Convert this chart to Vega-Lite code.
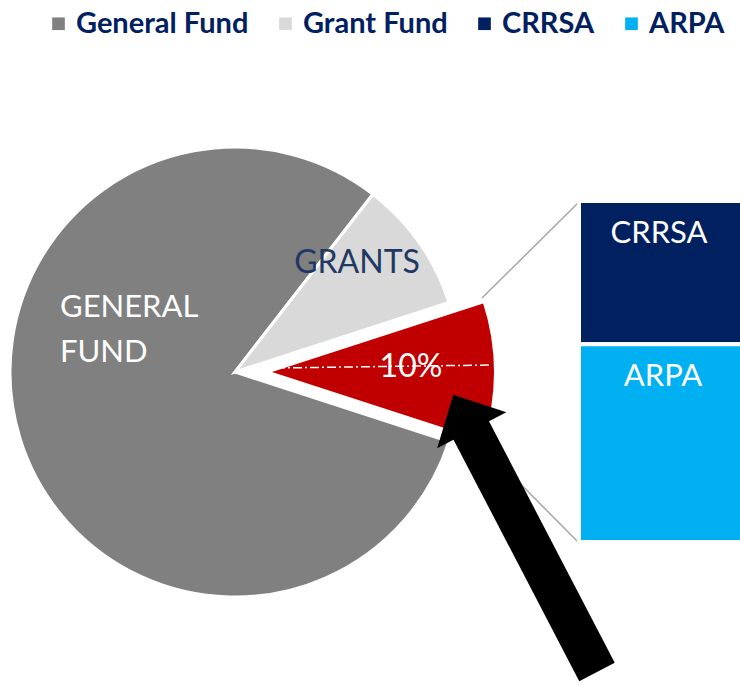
{
  "$schema": "https://vega.github.io/schema/vega-lite/v6.json",
  "width": 740,
  "height": 685,
  "autosize": "none",
  "padding": 0,
  "background": "white",
  "config": {"view": {"stroke": null}},
  "datasets": {
    "funds": [
      {"fund": "Federal Relief", "share": 10},
      {"fund": "General Fund", "share": 80.5},
      {"fund": "Grant Fund", "share": 9.5}
    ],
    "relief": [
      {"fund": "CRRSA", "share": 4.2},
      {"fund": "ARPA", "share": 5.8}
    ]
  },
  "resolve": {"scale": {"y": "independent"}},
  "layer": [
    {
      "data": {"name": "funds"},
      "transform": [{"stack": "share", "groupby": [], "sort": [{"field": "fund", "order": "ascending"}], "as": ["start", "end"]}],
      "mark": {"type": "arc", "outerRadius": 225, "stroke": "white", "strokeWidth": 3},
      "encoding": {
        "theta": {"field": "start", "type": "quantitative", "scale": {"domain": [0, 100], "range": [1.25664, 7.53982]}},
        "theta2": {"field": "end"},
        "color": {
          "field": "fund", "type": "nominal",
          "scale": {"domain": ["General Fund", "Grant Fund", "CRRSA", "ARPA", "Federal Relief"], "range": ["#808080", "#D9D9D9", "#002060", "#00B0F0", "#C00000"]},
          "legend": {
            "values": ["General Fund", "Grant Fund", "CRRSA", "ARPA"],
            "orient": "none", "legendX": 44, "legendY": 9, "direction": "horizontal",
            "title": null, "symbolType": "square", "symbolSize": 160, "symbolStrokeWidth": 0, "symbolOpacity": 1,
            "labelFont": "Lato", "labelFontWeight": "bold", "labelFontSize": 29, "labelColor": "#002060",
            "labelOffset": 3, "columnPadding": 22, "labelLimit": 400, "padding": 0
          }
        },
        "opacity": {"condition": {"test": "datum.fund === 'Federal Relief'", "value": 0}, "value": 1},
        "x": {"datum": 235, "type": "quantitative", "stack": null, "scale": {"domain": [0, 740], "range": [0, 740], "nice": false, "zero": false}, "axis": null},
        "y": {"datum": 372, "type": "quantitative", "stack": null, "scale": {"domain": [0, 685], "range": [0, 685], "nice": false, "zero": false}, "axis": null}
      }
    },
    {
      "data": {"name": "funds"},
      "transform": [{"stack": "share", "groupby": [], "sort": [{"field": "fund", "order": "ascending"}], "as": ["start", "end"]}],
      "mark": {"type": "arc", "outerRadius": 222, "stroke": "white", "strokeWidth": 0},
      "encoding": {
        "theta": {"field": "start", "type": "quantitative"},
        "theta2": {"field": "end"},
        "color": {"field": "fund", "type": "nominal"},
        "opacity": {"condition": {"test": "datum.fund === 'Federal Relief'", "value": 1}, "value": 0},
        "x": {"datum": 272, "type": "quantitative", "stack": null},
        "y": {"datum": 372, "type": "quantitative", "stack": null, "scale": {"domain": [0, 685], "range": [0, 685], "nice": false, "zero": false}, "axis": null}
      }
    },
    {
      "data": {"values": [{"side": "top"}]},
      "mark": {"type": "rule", "color": "#A6A6A6", "strokeWidth": 1.5},
      "encoding": {
        "x": {"datum": 482, "type": "quantitative"},
        "x2": {"datum": 578},
        "y": {"datum": 298, "type": "quantitative", "scale": {"domain": [0, 685], "range": [0, 685], "nice": false, "zero": false}, "axis": null},
        "y2": {"datum": 203}
      }
    },
    {
      "data": {"values": [{"side": "bottom"}]},
      "mark": {"type": "rule", "color": "#A6A6A6", "strokeWidth": 1.5},
      "encoding": {
        "x": {"datum": 470, "type": "quantitative"},
        "x2": {"datum": 577},
        "y": {"datum": 433, "type": "quantitative", "scale": {"domain": [0, 685], "range": [0, 685], "nice": false, "zero": false}, "axis": null},
        "y2": {"datum": 541}
      }
    },
    {
      "data": {"name": "relief"},
      "transform": [{"stack": "share", "groupby": [], "sort": [{"field": "fund", "order": "ascending"}], "as": ["y0", "y1"]}],
      "mark": {"type": "bar", "stroke": "white", "strokeWidth": 4},
      "encoding": {
        "x": {"datum": 579, "type": "quantitative", "stack": null},
        "x2": {"datum": 744},
        "y": {"field": "y0", "type": "quantitative", "scale": {"domain": [0, 10], "range": [542, 201], "nice": false, "zero": false}, "axis": null},
        "y2": {"field": "y1"},
        "color": {"field": "fund", "type": "nominal"}
      }
    },
    {
      "data": {"values": [{"label": "CRRSA"}]},
      "mark": {"type": "text", "font": "Lato", "fontSize": 31, "color": "white", "align": "center", "baseline": "alphabetic"},
      "encoding": {
        "text": {"field": "label"},
        "x": {"datum": 659, "type": "quantitative"},
        "y": {"datum": 243, "type": "quantitative", "scale": {"domain": [0, 685], "range": [0, 685], "nice": false, "zero": false}, "axis": null}
      }
    },
    {
      "data": {"values": [{"label": "ARPA"}]},
      "mark": {"type": "text", "font": "Lato", "fontSize": 31, "color": "white", "align": "center", "baseline": "alphabetic"},
      "encoding": {
        "text": {"field": "label"},
        "x": {"datum": 663, "type": "quantitative"},
        "y": {"datum": 386, "type": "quantitative", "scale": {"domain": [0, 685], "range": [0, 685], "nice": false, "zero": false}, "axis": null}
      }
    },
    {
      "data": {"values": [{"label": "GENERAL\nFUND"}]},
      "mark": {"type": "text", "font": "Lato", "fontSize": 31, "color": "white", "align": "left", "baseline": "alphabetic", "lineBreak": "\n", "lineHeight": 45},
      "encoding": {
        "text": {"field": "label"},
        "x": {"datum": 60, "type": "quantitative"},
        "y": {"datum": 317, "type": "quantitative", "scale": {"domain": [0, 685], "range": [0, 685], "nice": false, "zero": false}, "axis": null}
      }
    },
    {
      "data": {"values": [{"label": "GRANTS"}]},
      "mark": {"type": "text", "font": "Lato", "fontSize": 32, "color": "#1F3864", "align": "center", "baseline": "alphabetic"},
      "encoding": {
        "text": {"field": "label"},
        "x": {"datum": 357, "type": "quantitative"},
        "y": {"datum": 273, "type": "quantitative", "scale": {"domain": [0, 685], "range": [0, 685], "nice": false, "zero": false}, "axis": null}
      }
    },
    {
      "data": {"values": [{"line": "guide"}]},
      "mark": {"type": "rule", "color": "white", "strokeWidth": 1.5, "strokeDash": [9, 3, 2, 3]},
      "encoding": {
        "x": {"datum": 276, "type": "quantitative"},
        "x2": {"datum": 490},
        "y": {"datum": 368, "type": "quantitative", "scale": {"domain": [0, 685], "range": [0, 685], "nice": false, "zero": false}, "axis": null},
        "y2": {"datum": 365}
      }
    },
    {
      "data": {"values": [{"label": "10%"}]},
      "mark": {"type": "text", "font": "Lato", "fontSize": 32, "color": "white", "align": "center", "baseline": "alphabetic"},
      "encoding": {
        "text": {"field": "label"},
        "x": {"datum": 411, "type": "quantitative"},
        "y": {"datum": 377, "type": "quantitative", "scale": {"domain": [0, 685], "range": [0, 685], "nice": false, "zero": false}, "axis": null}
      }
    },
    {
      "data": {"values": [{"part": "shaft"}]},
      "mark": {"type": "rule", "color": "black", "strokeWidth": 40, "strokeCap": "butt"},
      "encoding": {
        "x": {"datum": 597, "type": "quantitative"},
        "x2": {"datum": 471},
        "y": {"datum": 672, "type": "quantitative", "scale": {"domain": [0, 685], "range": [0, 685], "nice": false, "zero": false}, "axis": null},
        "y2": {"datum": 430}
      }
    },
    {
      "data": {"values": [{"part": "head"}]},
      "mark": {"type": "point", "shape": "M0,-0.513L1,0.513L-1,0.513Z", "filled": true, "color": "black", "opacity": 1, "strokeWidth": 0, "size": 6084, "angle": 332.5},
      "encoding": {
        "x": {"datum": 462.5, "type": "quantitative"},
        "y": {"datum": 412.5, "type": "quantitative", "scale": {"domain": [0, 685], "range": [0, 685], "nice": false, "zero": false}, "axis": null}
      }
    }
  ]
}
